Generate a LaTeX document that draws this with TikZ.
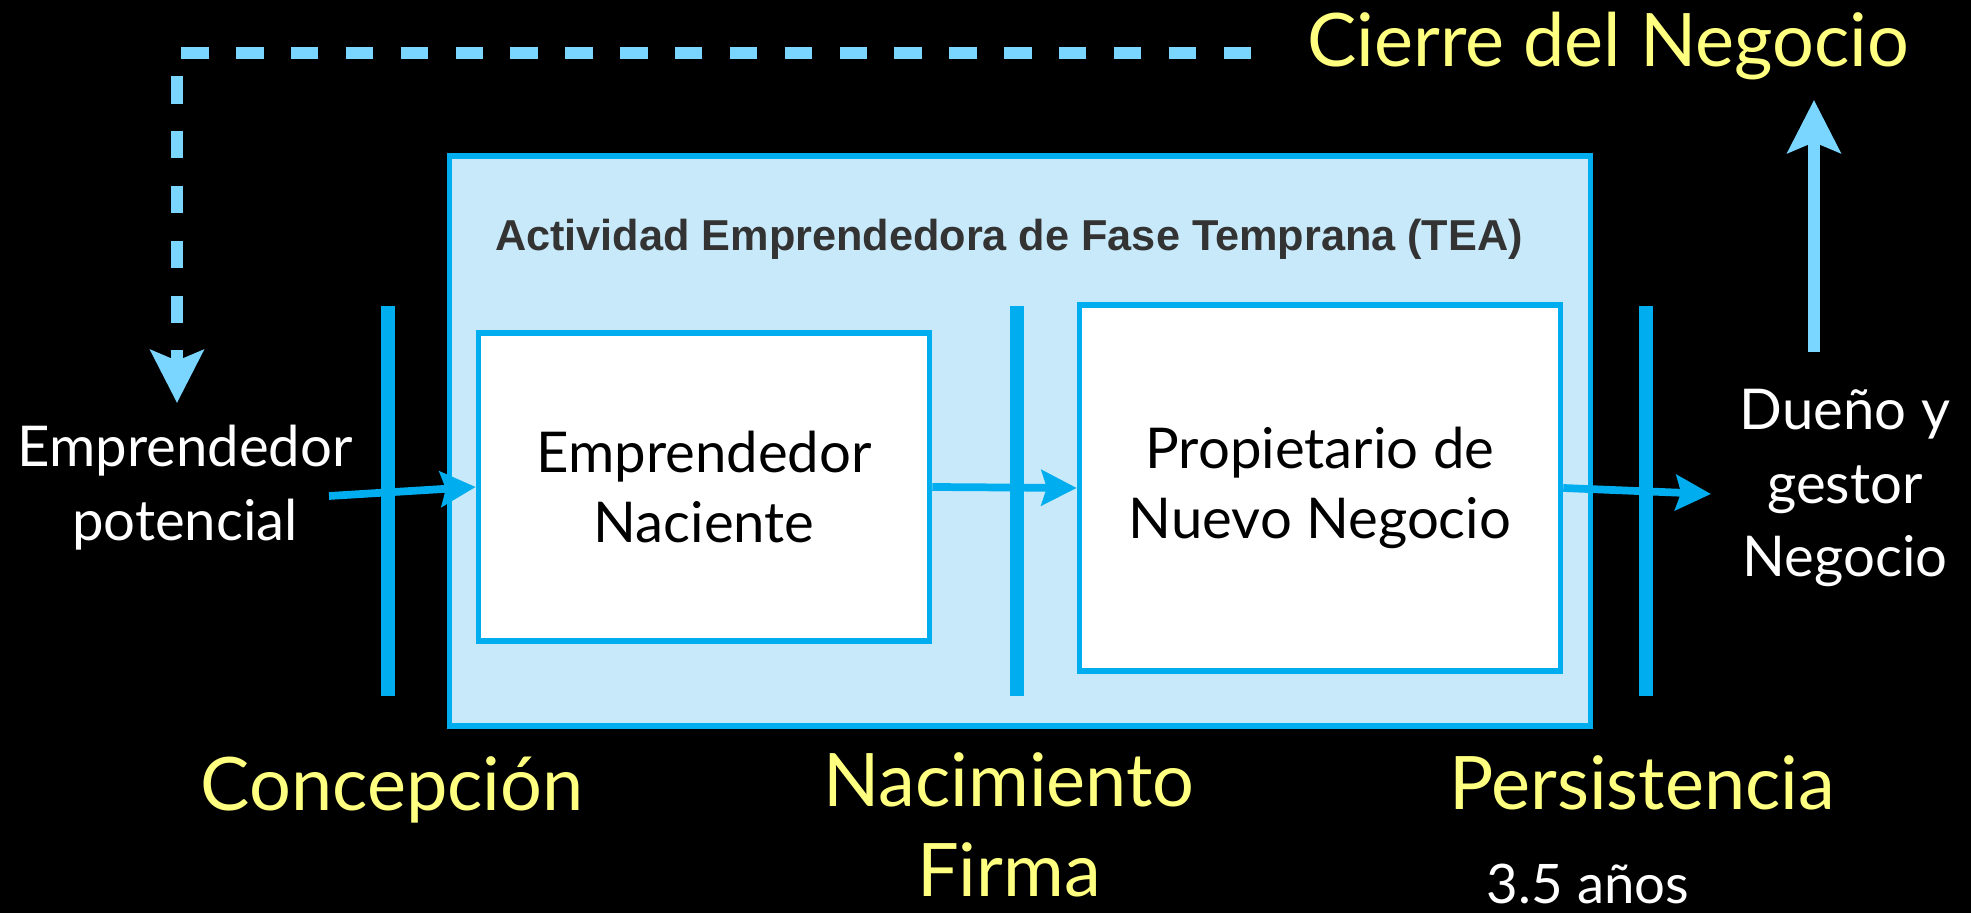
\documentclass[tikz,border=0pt]{standalone}
\usepackage{fontspec}
\setmainfont{Lato}
\newfontfamily\titlefont{Liberation Sans}
\usetikzlibrary{arrows.meta,positioning}
\definecolor{cian}{RGB}{0,174,239}
\definecolor{celeste}{RGB}{122,213,255}
\definecolor{fondotea}{RGB}{200,233,249}
\definecolor{amarillo}{RGB}{255,255,128}
\definecolor{grisoscuro}{RGB}{51,51,51}

\begin{document}
\begin{tikzpicture}
[x=0.01cm, y=-0.01cm,
fase/.style={rectangle, draw=cian, line width=1.5pt, fill=white, inner sep=0pt, align=center, font=\fontsize{16}{20}\selectfont},
barra/.style={rectangle, fill=cian, inner sep=0pt, minimum width=3.9pt, minimum height=3.89cm},
etapa/.style={text=amarillo, anchor=base, font=\fontsize{21}{25}\selectfont},
estado/.style={text=white, align=center, font=\fontsize{16}{21}\selectfont},
flujo/.style={cian, line width=2.2pt, -{Stealth[length=10pt, width=10pt, inset=1.5pt]}},
salida/.style={celeste, line width=3.5pt, -{Stealth[length=15pt, width=15pt, inset=3pt]}}]

\fill[black] (0,0) rectangle (1971,913);
\useasboundingbox (0,0) rectangle (1971,913);

% TEA
\node[rectangle, draw=cian, line width=1.6pt, fill=fondotea, minimum width=11.4cm, minimum height=5.7cm] (tea) at (1020,441) {};
\node[text=grisoscuro, font=\titlefont\bfseries\fontsize{12.3}{15}\selectfont] (titulo) at (1009,239) {Actividad Emprendedora de Fase Temprana (TEA)};

\node[barra] (corte1) at (388,501) {};
\node[barra] (corte2) at (1017,501) {};
\node[barra] (corte3) at (1646,501) {};

\node[fase, minimum width=4.51cm, minimum height=3.08cm] (naciente) at (704,487) {Emprendedor\\Naciente};
\node[fase, minimum width=4.81cm, minimum height=3.66cm] (nuevo) at (1320,488) {Propietario de\\Nuevo Negocio};

\node[estado] (potencial) at (185,488) {Emprendedor\\potencial};
\node[estado] (dueno) at (1845,488) {Dueño y\\gestor\\Negocio};

% etapas
\node[etapa] (cierre) at (1608,67) {Cierre del Negocio};
\node[etapa] (concepcion) at (392,811) {Concepción};
\node[etapa] (nacimiento) at (1009,807) {Nacimiento};
\node[etapa] (firma) at (1009,897) {Firma};
\node[etapa] (persistencia) at (1642,810) {Persistencia};
\node[text=white, anchor=base, inner sep=1pt, font=\fontsize{15.5}{19}\selectfont] (anios) at (1588,904) {3.5 años};

% flechas
\coordinate (inicio) at (329,496);
\coordinate (fin) at (1711,494);
\draw[flujo] (inicio) -- (naciente.west);
\draw[flujo] (naciente.east) -- (nuevo.west);
\draw[flujo] (nuevo.east) -- (fin);

\coordinate (arranque) at (1814,352);
\coordinate (tope) at (1814,100);
\draw[salida] (arranque) -- (tope);

\coordinate (retorno) at (1251,53);
\coordinate (reingreso) at (177,403);
\draw[salida, dash pattern=on 7.8pt off 7.8pt] (retorno) -| (reingreso);
\end{tikzpicture}
\end{document}
